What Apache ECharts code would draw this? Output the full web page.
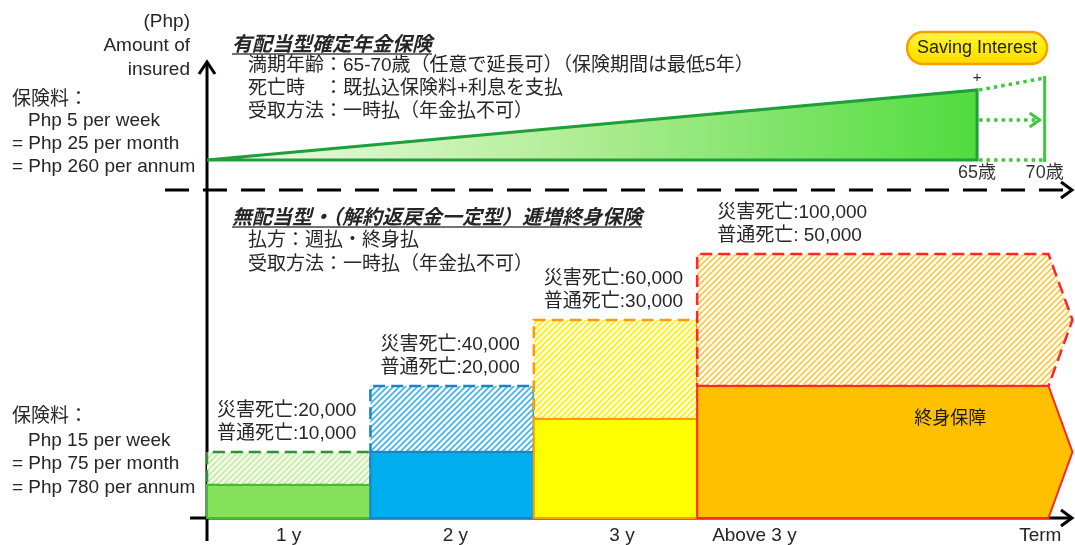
<!DOCTYPE html>
<html>
<head>
<meta charset="utf-8">
<script src="https://cdn.jsdelivr.net/npm/echarts@6/dist/echarts.min.js"></script>
<style>
  html, body { margin: 0; padding: 0; background: #fff; }
  #chart { width: 1075px; height: 545px; }
</style>
</head>
<body>
<div id="chart"></div>
<script>
// ---- 下段: 逓増終身保険 ----
const termNames = ['1 y', '2 y', '3 y', 'Above 3 y', 'Term'];
const termLabelPos = [0.5, 1.52, 2.54, 3.35, 5.1];
const termStart = [0, 1, 2, 3];
const termEnd = [1, 2, 3, 5.15];
// drawn heights (not to scale for the last block)
const normalDeath = [10, 20, 30, 40];
const accidentDeath = [20, 40, 60, 80];
const accidentText = ['災害死亡:20,000', '災害死亡:40,000', '災害死亡:60,000', '災害死亡:100,000'];
const normalText = ['普通死亡:10,000', '普通死亡:20,000', '普通死亡:30,000', '普通死亡: 50,000'];
const coverText = ['', '', '', '終身保障'];

// ---- 上段: 確定年金保険 ----
const matureAge = [65, 70];
const fundValue = [70, 82];
const interestArrow = 40;

const FONT = '"Liberation Sans", "Noto Sans CJK JP", sans-serif';
const JP = '"Noto Sans CJK JP", "Liberation Sans", sans-serif';
const TXT = '#262626';

// hatch pattern
function hatch(line, bg, w) {
  const c = document.createElement('canvas');
  c.width = 6; c.height = 6;
  const g = c.getContext('2d');
  g.fillStyle = bg;
  g.fillRect(0, 0, 6, 6);
  g.strokeStyle = line;
  g.lineWidth = w || 1.6;
  g.beginPath();
  g.moveTo(-1, 7); g.lineTo(7, -1);
  g.moveTo(-1, 1); g.lineTo(1, -1);
  g.moveTo(5, 7); g.lineTo(7, 5);
  g.stroke();
  return { image: c, repeat: 'repeat' };
}

const palette = [
  { solid: '#86e25a', border: '#46b83c', hatch: hatch('#c2eca0', '#f4fbee'), dash: '#2f8f3a' },
  { solid: '#00aeef', border: '#1b84c6', hatch: hatch('#3bb4ea', '#ffffff'), dash: '#1b84c6' },
  { solid: '#ffff00', border: '#ff9a00', hatch: hatch('#fff200', '#ffffff', 1.9), dash: '#ff9a00' },
  { solid: '#ffc000', border: '#ff2626', hatch: hatch('#f6c94a', '#fffdf6', 1.7), dash: '#ff2626' }
];

function renderTerm(params, api) {
  const i = api.value(4);
  const b0 = api.coord([api.value(0), 0]);
  const b1 = api.coord([api.value(1), 0]);
  const yn = api.coord([api.value(1), api.value(2)])[1];
  const ya = api.coord([api.value(1), api.value(3)])[1];
  const x0 = b0[0], x1 = b1[0], yb = b0[1];
  const pal = palette[i];
  const last = i === termStart.length - 1;
  const tip = last ? 24 : 0;
  const pad = last ? 20 : 10;
  const solidPts = last
    ? [[x0, yb], [x1, yb], [x1 + tip, (yb + yn) / 2], [x1, yn], [x0, yn]]
    : [[x0, yb], [x1, yb], [x1, yn], [x0, yn]];
  const hatchPts = last
    ? [[x0, yn], [x1, yn], [x1 + tip, (yn + ya) / 2], [x1, ya], [x0, ya]]
    : [[x0, yn], [x1, yn], [x1, ya], [x0, ya]];
  const children = [
    {
      type: 'polygon', shape: { points: hatchPts },
      style: { fill: pal.hatch, stroke: pal.dash, lineWidth: 2.5, lineDash: [12, 6] }
    },
    {
      type: 'polygon', shape: { points: solidPts },
      style: { fill: pal.solid, stroke: pal.border, lineWidth: 2 }
    },
    {
      type: 'text', x: x0 + pad, y: ya - 41,
      style: { text: accidentText[i], font: '19px ' + FONT, fill: TXT, align: 'left', verticalAlign: 'middle' }
    },
    {
      type: 'text', x: x0 + pad, y: ya - 18,
      style: { text: normalText[i], font: '19px ' + FONT, fill: TXT, align: 'left', verticalAlign: 'middle' }
    }
  ];
  if (coverText[i]) {
    children.push({
      type: 'text', x: x0 + 0.72 * (x1 - x0), y: yn + 31,
      style: { text: coverText[i], font: '18px ' + JP, fill: '#1a1a1a', align: 'center', verticalAlign: 'middle' }
    });
  }
  return { type: 'group', children: children };
}

function renderAnnuity(params, api) {
  const left = params.coordSys.x;
  const p65 = api.coord([api.value(0), api.value(2)]);
  const p70 = api.coord([api.value(1), api.value(3)]);
  const base = api.coord([api.value(0), 0])[1];
  const mid = api.coord([api.value(0), api.value(4)])[1];
  const x65 = p65[0], x70 = p70[0];
  const dot = { stroke: '#41c83e', lineWidth: 3.5, lineDash: [3.5, 4] };
  return {
    type: 'group',
    children: [
      {
        type: 'polygon', shape: { points: [[left, base], [x65, p65[1]], [x65, base]] },
        style: {
          fill: new echarts.graphic.LinearGradient(0, 0, 1, 0, [
            { offset: 0, color: '#f2fbea' },
            { offset: 0.45, color: '#b6ee9a' },
            { offset: 1, color: '#50dc3e' }
          ]),
          stroke: '#1f9e3c', lineWidth: 3
        }
      },
      { type: 'line', shape: { x1: x65 + 2, y1: p65[1], x2: x70, y2: p70[1] }, style: dot },
      { type: 'line', shape: { x1: x65 + 2, y1: mid, x2: x70 - 5, y2: mid }, style: dot },
      { type: 'line', shape: { x1: x65 + 2, y1: base, x2: x70, y2: base }, style: dot },
      {
        type: 'polyline', shape: { points: [[x70 - 15, mid - 7], [x70 - 5, mid], [x70 - 15, mid + 7]] },
        style: { stroke: '#41c83e', lineWidth: 3, fill: null }
      },
      { type: 'line', shape: { x1: x70, y1: p70[1] - 2, x2: x70, y2: base + 2 }, style: { stroke: '#41c83e', lineWidth: 3 } },
      {
        type: 'text', x: x65, y: p65[1] - 12,
        style: { text: '+', font: '15px ' + FONT, fill: TXT, align: 'center', verticalAlign: 'middle' }
      },
      {
        type: 'rect', shape: { x: x65 - 70, y: 32, width: 140, height: 32, r: 16 },
        style: {
          fill: new echarts.graphic.LinearGradient(0, 0, 0, 1, [
            { offset: 0, color: '#fff35a' },
            { offset: 0.5, color: '#ffec00' },
            { offset: 1, color: '#ffd800' }
          ]),
          stroke: '#f5a000', lineWidth: 2.5
        }
      },
      {
        type: 'text', x: x65, y: 48,
        style: { text: 'Saving Interest', font: '18px ' + FONT, fill: '#222', align: 'center', verticalAlign: 'middle' }
      }
    ]
  };
}

// text helpers for the frame
const measure = document.createElement('canvas').getContext('2d');
function textW(font, s) { measure.font = font; return measure.measureText(s).width; }
function txt(x, y, s, font, align) {
  return { type: 'text', x: x, y: y, style: { text: s, font: font, fill: TXT, align: align || 'left', verticalAlign: 'middle' } };
}
function ln(x1, y1, x2, y2, extra) {
  return { type: 'line', shape: { x1: x1, y1: y1, x2: x2, y2: y2 }, style: Object.assign({ stroke: '#000', lineWidth: 3 }, extra || {}) };
}
function chevron(pts) {
  return { type: 'polyline', shape: { points: pts }, style: { stroke: '#000', lineWidth: 3, fill: null } };
}

const F19 = '19px ' + FONT;
const TITLE = 'italic bold 20px ' + JP;
const title1 = '有配当型確定年金保険';
const title2 = '無配当型・（解約返戻金一定型）逓増終身保険';

const graphics = [
  // axes and separator
  ln(207, 541, 207, 62),
  chevron([[199, 74], [207, 62], [215, 74]]),
  ln(190, 518, 1072, 518),
  chevron([[1061, 510], [1072, 518], [1061, 526]]),
  ln(165, 190, 1070, 190, { lineDash: [24, 14] }),
  chevron([[1061, 182], [1072, 190], [1061, 198]]),
  // left labels
  txt(190, 22, '(Php)', F19, 'right'),
  txt(190, 46, 'Amount of', F19, 'right'),
  txt(190, 70, 'insured', F19, 'right'),
  txt(12, 100, '保険料：', F19),
  txt(28, 121, 'Php 5 per week', F19),
  txt(12, 144, '= Php 25 per month', F19),
  txt(12, 167, '= Php 260 per annum', F19),
  txt(12, 417, '保険料：', F19),
  txt(28, 441, 'Php 15 per week', F19),
  txt(12, 464, '= Php 75 per month', F19),
  txt(12, 488, '= Php 780 per annum', F19),
  // product descriptions
  txt(232, 43, title1, TITLE),
  ln(232, 54, 232 + textW(TITLE, title1), 54, { stroke: '#444', lineWidth: 1.5 }),
  txt(248, 66, '満期年齢：65-70歳（任意で延長可）（保険期間は最低5年）', F19),
  txt(248, 89, '死亡時　：既払込保険料+利息を支払', F19),
  txt(248, 112, '受取方法：一時払（年金払不可）', F19),
  txt(232, 216, title2, TITLE),
  ln(232, 227, 232 + textW(TITLE, title2), 227, { stroke: '#444', lineWidth: 1.5 }),
  txt(248, 241, '払方：週払・終身払', F19),
  txt(248, 265, '受取方法：一時払（年金払不可）', F19)
];

const chart = echarts.init(document.getElementById('chart'));
chart.setOption({
  animation: false,
  backgroundColor: '#fff',
  grid: [
    { left: 207, top: 60, width: 866, height: 100 },
    { left: 207, top: 188, width: 866, height: 330 }
  ],
  xAxis: [
    {
      gridIndex: 0, type: 'value', min: 8, max: 72.1,
      axisLine: { show: false }, axisTick: { show: false }, splitLine: { show: false },
      axisLabel: {
        customValues: matureAge, formatter: (v) => v + '歳',
        margin: 4, fontSize: 18, color: '#333', fontFamily: FONT
      }
    },
    {
      gridIndex: 1, type: 'value', min: 0, max: 5.3,
      axisLine: { show: false }, axisTick: { show: false }, splitLine: { show: false },
      axisLabel: {
        customValues: termLabelPos,
        formatter: (v) => termNames[termLabelPos.indexOf(v)] || '',
        margin: 8, fontSize: 19, color: TXT, fontFamily: FONT
      }
    }
  ],
  yAxis: [
    { gridIndex: 0, type: 'value', min: 0, max: 100, show: false },
    { gridIndex: 1, type: 'value', min: 0, max: 100, show: false }
  ],
  series: [
    {
      type: 'custom', xAxisIndex: 0, yAxisIndex: 0,
      renderItem: renderAnnuity,
      data: [[matureAge[0], matureAge[1], fundValue[0], fundValue[1], interestArrow]]
    },
    {
      type: 'custom', xAxisIndex: 1, yAxisIndex: 1,
      renderItem: renderTerm,
      data: termStart.map((s, i) => [s, termEnd[i], normalDeath[i], accidentDeath[i], i])
    }
  ],
  graphic: { elements: graphics }
});
</script>
</body>
</html>
